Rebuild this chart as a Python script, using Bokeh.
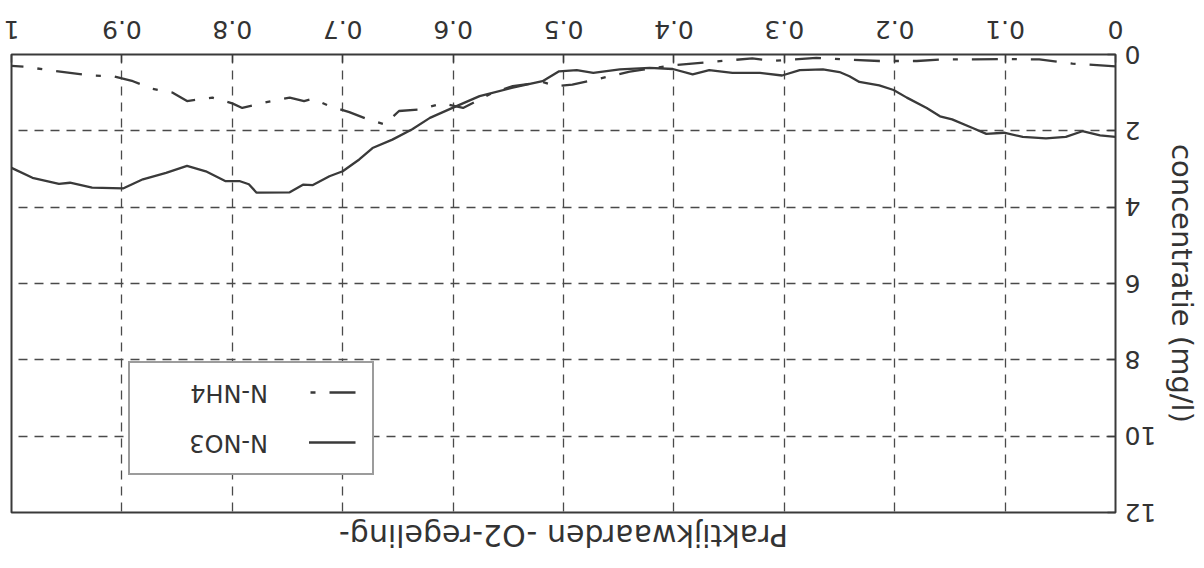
from bokeh.plotting import figure
from bokeh.models import FixedTicker, Legend, LegendItem, Range1d, Title
from bokeh.embed import file_html
from bokeh.resources import INLINE

# Oxygen control setpoint (practical values) and nitrogen concentrations in mg/l
no3_x = [0.000, 0.014, 0.030, 0.045, 0.063, 0.084, 0.101, 0.117, 0.130, 0.148,
         0.159, 0.171, 0.189, 0.201, 0.214, 0.232, 0.241, 0.250, 0.265, 0.286,
         0.302, 0.322, 0.347, 0.368, 0.383, 0.401, 0.422, 0.449, 0.473, 0.488,
         0.504, 0.519, 0.546, 0.576, 0.599, 0.621, 0.637, 0.655, 0.673, 0.685,
         0.700, 0.712, 0.727, 0.736, 0.748, 0.778, 0.785, 0.793, 0.806, 0.824,
         0.841, 0.860, 0.881, 0.899, 0.927, 0.947, 0.957, 0.981, 1.000]
no3_y = [2.16, 2.12, 2.01, 2.16, 2.20, 2.16, 2.05, 2.08, 1.92, 1.70,
         1.62, 1.40, 1.13, 0.93, 0.81, 0.72, 0.57, 0.46, 0.39, 0.41,
         0.55, 0.48, 0.48, 0.41, 0.52, 0.38, 0.35, 0.39, 0.48, 0.41,
         0.44, 0.70, 0.87, 1.09, 1.38, 1.66, 1.96, 2.23, 2.45, 2.75,
         3.06, 3.19, 3.42, 3.41, 3.61, 3.62, 3.40, 3.32, 3.32, 3.06,
         2.92, 3.10, 3.27, 3.51, 3.49, 3.36, 3.39, 3.23, 2.97]

nh4_x = [0.000, 0.010, 0.039, 0.069, 0.100, 0.128, 0.159, 0.180, 0.214, 0.243,
         0.271, 0.311, 0.329, 0.368, 0.400, 0.440, 0.470, 0.492, 0.506, 0.519,
         0.546, 0.564, 0.591, 0.610, 0.630, 0.649, 0.662, 0.678, 0.694, 0.712,
         0.727, 0.735, 0.748, 0.769, 0.791, 0.800, 0.818, 0.841, 0.854, 0.872,
         0.890, 0.908, 0.929, 0.947, 0.966, 0.988, 1.000]
nh4_y = [0.31, 0.29, 0.24, 0.13, 0.12, 0.13, 0.13, 0.17, 0.17, 0.13,
         0.09, 0.17, 0.10, 0.20, 0.28, 0.45, 0.65, 0.79, 0.83, 0.72,
         0.83, 1.00, 1.40, 1.28, 1.44, 1.48, 1.83, 1.69, 1.51, 1.35,
         1.16, 1.22, 1.13, 1.25, 1.40, 1.28, 1.13, 1.22, 1.00, 0.90,
         0.70, 0.57, 0.55, 0.48, 0.41, 0.32, 0.30]

x_ticks = [0, 0.1, 0.2, 0.3, 0.4, 0.5, 0.6, 0.7, 0.8, 0.9, 1]
y_ticks = [0, 2, 4, 6, 8, 10, 12]

FONT = "DejaVu Sans"
INK = "#333333"
LINE = "#3a3a3a"

p = figure(width=1204, height=568, output_backend="svg", toolbar_location=None,
           x_range=Range1d(0, 1), y_range=Range1d(0, 12),
           min_border_left=88, min_border_right=12,
           min_border_top=55, min_border_bottom=55,
           background_fill_color="white", border_fill_color="white")

# the sheet is shown turned upside down
p.styles = {"transform": "rotate(180deg)"}

p.title = Title(text="Praktijkwaarden -O2-regeling-", align="center",
                text_font=FONT, text_font_size="30px", text_font_style="normal",
                text_color=INK)

p.outline_line_color = LINE
p.outline_line_width = 2

xa = p.xaxis[0]
xa.ticker = FixedTicker(ticks=x_ticks)
xa.major_label_overrides = {0: "0", 1: "1"}
ya = p.yaxis[0]
ya.ticker = FixedTicker(ticks=y_ticks)
ya.axis_label = "concentratie (mg/l)"
ya.axis_label_standoff = 6
ya.axis_label_text_font = FONT
ya.axis_label_text_font_size = "29px"
ya.axis_label_text_font_style = "normal"
ya.axis_label_text_color = INK

for ax in (xa, ya):
    ax.axis_line_color = None
    ax.major_tick_in = 8
    ax.major_tick_out = 0
    ax.major_tick_line_color = LINE
    ax.major_tick_line_width = 1.5
    ax.minor_tick_line_color = None
    ax.major_label_text_font = FONT
    ax.major_label_text_font_size = "25px"
    ax.major_label_text_color = INK
xa.major_label_standoff = 16
ya.major_label_standoff = 9

p.xgrid.ticker = FixedTicker(ticks=x_ticks)
p.ygrid.ticker = FixedTicker(ticks=y_ticks)
for g in (p.xgrid, p.ygrid):
    g.grid_line_color = "#4a4a4a"
    g.grid_line_width = 1.3
    g.grid_line_dash = "9 7"

r_no3 = p.line(no3_x, no3_y, line_color=LINE, line_width=2.3)
r_nh4 = p.line(nh4_x, nh4_y, line_color=LINE, line_width=2.3,
               line_dash="26 14 5 14")

legend = Legend(items=[LegendItem(label="N-NO3", renderers=[r_no3]),
                       LegendItem(label="N-NH4", renderers=[r_nh4])],
                location=(742, 306), orientation="vertical",
                padding=16, spacing=22, margin=0,
                glyph_width=47, glyph_height=24, label_height=24,
                label_width=122, label_standoff=41,
                label_text_font=FONT, label_text_font_size="24px",
                label_text_line_height=1.0,
                label_text_color=INK,
                border_line_color=LINE, border_line_width=2,
                background_fill_color="white", background_fill_alpha=1.0)
p.add_layout(legend)

open("out.html", "w").write(file_html(p, INLINE))
